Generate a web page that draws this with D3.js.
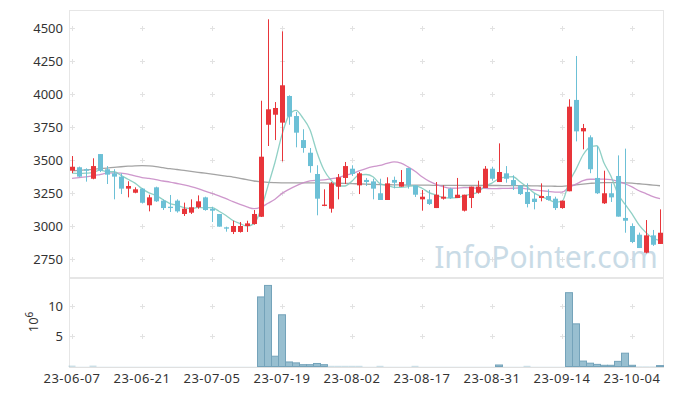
<!DOCTYPE html>
<html><head><meta charset="utf-8">
<script src="https://cdn.jsdelivr.net/npm/d3@7/dist/d3.min.js"></script>
<style>body{margin:0;background:#fff}svg{display:block}</style>
</head><body>
<svg id="c" width="673" height="396"></svg>
<script>
const dates = ["23-06-07","23-06-08","23-06-09","23-06-12","23-06-13","23-06-14","23-06-15","23-06-16","23-06-19","23-06-20",
"23-06-21","23-06-22","23-06-23","23-06-26","23-06-27","23-06-28","23-06-29","23-06-30","23-07-03","23-07-04",
"23-07-05","23-07-06","23-07-07","23-07-10","23-07-11","23-07-12","23-07-13","23-07-14","23-07-17","23-07-18",
"23-07-19","23-07-20","23-07-21","23-07-24","23-07-25","23-07-26","23-07-27","23-07-28","23-07-31","23-08-01",
"23-08-02","23-08-03","23-08-04","23-08-07","23-08-08","23-08-09","23-08-10","23-08-11","23-08-14","23-08-16",
"23-08-17","23-08-18","23-08-21","23-08-22","23-08-23","23-08-24","23-08-25","23-08-28","23-08-29","23-08-30",
"23-08-31","23-09-01","23-09-04","23-09-05","23-09-06","23-09-07","23-09-08","23-09-11","23-09-12","23-09-13",
"23-09-14","23-09-15","23-09-18","23-09-19","23-09-20","23-09-21","23-09-22","23-09-25","23-09-26","23-09-27",
"23-10-04","23-10-05","23-10-06","23-10-10","23-10-11"];
const open = [3419,3445,3430,3358,3545,3430,3399,3374,3283,3252,3283,3157,3293,3192,3146,3192,3091,3101,3142,3217,
3131,3091,2990,2955,2955,3000,3015,3070,3767,3843,3783,3985,3833,3651,3555,3394,3152,3131,3298,3364,
3434,3308,3349,3338,3248,3197,3349,3298,3439,3308,3202,3202,3136,3207,3283,3212,3116,3212,3252,3288,
3434,3333,3399,3348,3308,3258,3207,3212,3227,3207,3136,3263,3955,3717,3672,3364,3172,3248,3379,3061,
3000,2934,2798,2929,2864];
const high = [3530,3450,3437,3513,3545,3454,3430,3399,3339,3293,3288,3237,3298,3202,3235,3202,3177,3202,3232,3222,
3146,3091,2995,3040,3030,3040,3121,3949,4566,3939,4475,3990,3864,3733,3591,3460,3278,3333,3394,3485,
3460,3409,3364,3358,3358,3369,3374,3424,3439,3308,3273,3273,3333,3308,3290,3364,3237,3298,3343,3454,
3449,3626,3454,3384,3310,3323,3248,3323,3278,3222,3192,3960,4288,3773,3687,3606,3419,3323,3535,3586,
3020,2950,3045,2970,3126];
const low = [3401,3370,3336,3354,3409,3318,3202,3242,3217,3248,3170,3111,3182,3121,3106,3101,3076,3091,3131,3116,
3030,2995,2957,2939,2950,2955,3010,3068,3606,3651,3490,3767,3596,3555,3404,3081,3150,3101,3202,3318,
3379,3242,3303,3202,3197,3197,3285,3298,3283,3220,3116,3159,3136,3200,3205,3212,3110,3136,3245,3288,
3343,3333,3328,3273,3235,3141,3126,3187,3192,3121,3131,3263,3641,3581,3400,3242,3167,3182,3071,2949,
2870,2833,2793,2849,2864];
const close = [3449,3374,3419,3454,3419,3389,3374,3283,3303,3278,3176,3217,3187,3136,3136,3111,3131,3142,3187,3121,
3116,2995,2980,3000,3000,3020,3091,3525,3884,3894,4066,3828,3707,3591,3454,3207,3162,3323,3369,3454,
3394,3399,3333,3283,3197,3323,3328,3333,3308,3237,3222,3167,3237,3222,3212,3237,3237,3298,3298,3434,
3358,3409,3358,3308,3242,3167,3182,3227,3197,3136,3192,3904,3717,3742,3430,3248,3248,3217,3071,3040,
2879,2833,2929,2858,2949];
// volume in millions of shares
const volume = [0.12,0.02,0.02,0.12,0.02,0.02,0.02,0.02,0.02,0.02,0.02,0.02,0.02,0.02,0.02,0.02,0.02,0.02,0.02,0.02,
0.02,0.02,0.02,0.02,0.02,0.02,0.02,11.5,13.4,1.7,8.55,0.75,0.6,0.3,0.3,0.5,0.3,0.1,0.1,0.1,
0.1,0.1,0.02,0.02,0.1,0.02,0.02,0.02,0.02,0.1,0.02,0.02,0.02,0.02,0.02,0.02,0.02,0.02,0.02,0.02,
0.02,0.25,0.02,0.02,0.02,0.1,0.02,0.02,0.02,0.02,0.02,12.2,7.05,0.9,0.55,0.35,0.2,0.2,0.85,2.2,
0.2,0.05,0.05,0.05,0.15];
const ma5 = [3400,3398,3400,3405,3423,3411,3411,3384,3354,3325,3283,3251,3232,3199,3170,3157,3140,3131,3141,3138,
3139,3112,3080,3042,3018,2999,3018,3127,3304,3483,3692,3839,3876,3817,3729,3557,3424,3347,3303,3303,
3340,3388,3390,3373,3321,3307,3293,3293,3298,3306,3286,3253,3234,3217,3212,3215,3229,3241,3256,3301,
3325,3359,3371,3373,3335,3297,3251,3225,3203,3182,3187,3331,3429,3538,3597,3608,3477,3377,3243,3165,
3091,3008,2950,2908,2890];
const ma20 = [3361,3366,3372,3380,3390,3400,3403,3400,3393,3379,3367,3360,3352,3341,3333,3322,3311,3299,3284,3264,
3248,3229,3207,3184,3163,3145,3131,3143,3172,3202,3247,3278,3304,3326,3342,3347,3349,3358,3367,3383,
3397,3417,3435,3449,3459,3474,3486,3476,3448,3415,3373,3340,3316,3298,3286,3287,3291,3290,3286,3285,
3283,3284,3285,3286,3288,3281,3273,3268,3262,3257,3256,3293,3317,3343,3354,3354,3355,3351,3339,3320,
3296,3267,3245,3223,3208];
const ma60 = [3417,3421,3425,3429,3434,3439,3444,3449,3453,3456,3457,3455,3450,3442,3434,3428,3421,3414,3407,3400,
3393,3386,3378,3371,3361,3351,3341,3335,3330,3328,3327,3327,3327,3327,3327,3326,3326,3325,3324,3323,
3321,3319,3317,3315,3314,3313,3312,3311,3310,3310,3309,3309,3308,3308,3308,3308,3307,3307,3307,3307,
3307,3307,3306,3306,3305,3305,3304,3303,3302,3301,3300,3305,3312,3318,3323,3327,3328,3328,3328,3327,
3325,3320,3315,3310,3305];
const priceTicks = [2750,3000,3250,3500,3750,4000,4250,4500];
const volTicks = [5,10];
const xTickIdx = [0,10,20,30,40,50,60,70,80];

const svg = d3.select("#c");
const L = 69, R = 663, PT = 10, PB = 277, VT = 278, VB = 367;
const x = d3.scaleLinear().domain([0, 84]).range([72, 660]);
const y = d3.scaleLinear().domain([2750, 4500]).range([259, 28]);
const yv = d3.scaleLinear().domain([0, 10]).range([366.5, 306]);
const font = "'Noto Sans', 'DejaVu Sans', sans-serif";

// frames
const g = svg.append("g");
g.append("rect").attr("x", L+0.5).attr("y", PT+0.5).attr("width", R-L).attr("height", PB-PT)
  .attr("fill", "none").attr("stroke", "#e6e6e6");
g.append("rect").attr("x", L+0.5).attr("y", VT+0.5).attr("width", R-L).attr("height", VB-VT)
  .attr("fill", "none").attr("stroke", "#e6e6e6");

// grid crosses
function cross(cx, cy) {
  g.append("path").attr("d", `M${cx-2.5},${cy}H${cx+2.5}M${cx},${cy-2.5}V${cy+2.5}`)
    .attr("stroke", "#e2e2e2").attr("stroke-width", 1);
}
xTickIdx.forEach(i => {
  priceTicks.forEach(t => cross(Math.round(x(i))+0.5, Math.round(y(t))+0.5));
  volTicks.forEach(t => cross(Math.round(x(i))+0.5, Math.round(yv(t))+0.5));
});

// watermark
svg.append("text").attr("x", 546).attr("y", 268).attr("text-anchor", "middle")
  .attr("font-family", font).attr("font-size", 30).attr("fill", "#c9dbe6").text("InfoPointer.com");

// MA lines
const line = (arr) => d3.line().x((d, i) => x(i)).y(d => y(d)).curve(d3.curveMonotoneX)(arr);
svg.append("path").attr("d", line(ma60)).attr("fill", "none").attr("stroke", "#9a9a9a").attr("stroke-width", 1.3).attr("opacity", 0.9);
svg.append("path").attr("d", line(ma20)).attr("fill", "none").attr("stroke", "#c98cc6").attr("stroke-width", 1.3).attr("opacity", 0.9);
svg.append("path").attr("d", line(ma5)).attr("fill", "none").attr("stroke", "#84cbbf").attr("stroke-width", 1.3).attr("opacity", 0.9);

// candles
const up = "#e8353a", down = "#6cc0d6";
const cg = svg.append("g");
dates.forEach((d, i) => {
  const col = close[i] >= open[i] ? up : down;
  const cx = Math.round(x(i)) + 0.5;
  cg.append("line").attr("x1", cx).attr("x2", cx).attr("y1", y(high[i])).attr("y2", y(low[i]))
    .attr("stroke", col).attr("stroke-width", 1);
  const top = y(Math.max(open[i], close[i])), bot = y(Math.min(open[i], close[i]));
  cg.append("rect").attr("x", cx - 2.5).attr("y", top).attr("width", 5).attr("height", Math.max(1, bot - top))
    .attr("fill", col);
});

// volume bars
const vg = svg.append("g");
dates.forEach((d, i) => {
  const x0 = x(i) - 3.5;
  const h = yv(0) - yv(volume[i]);
  vg.append("rect").attr("x", x0).attr("y", yv(volume[i])).attr("width", 7).attr("height", h)
    .attr("fill", "#98bfd0").attr("stroke", h > 0.8 ? "#74a3ba" : "none").attr("stroke-width", 1);
});
svg.append("line").attr("x1", L).attr("x2", R+1).attr("y1", VB+0.5).attr("y2", VB+0.5).attr("stroke", "#e0e0e0");

// axis labels
const tc = "#333";
priceTicks.forEach(t => {
  svg.append("text").attr("x", 63).attr("y", y(t)).attr("dy", "0.35em").attr("text-anchor", "end")
    .attr("font-family", font).attr("font-size", 13).attr("fill", tc).text(t);
});
volTicks.forEach(t => {
  svg.append("text").attr("x", 63).attr("y", yv(t)).attr("dy", "0.35em").attr("text-anchor", "end")
    .attr("font-family", font).attr("font-size", 13).attr("fill", tc).text(t);
});
const lab = svg.append("text").attr("transform", "translate(38,322) rotate(-90)").attr("text-anchor", "middle")
  .attr("font-family", font).attr("font-size", 13).attr("fill", tc);
lab.append("tspan").text("10");
lab.append("tspan").attr("dy", -5).attr("font-size", 10).text("6");
xTickIdx.forEach(i => {
  svg.append("text").attr("x", x(i)).attr("y", 383).attr("text-anchor", "middle")
    .attr("font-family", font).attr("font-size", 13).attr("fill", tc).attr("letter-spacing", 0.5).text(dates[i]);
});
</script>
</body></html>
